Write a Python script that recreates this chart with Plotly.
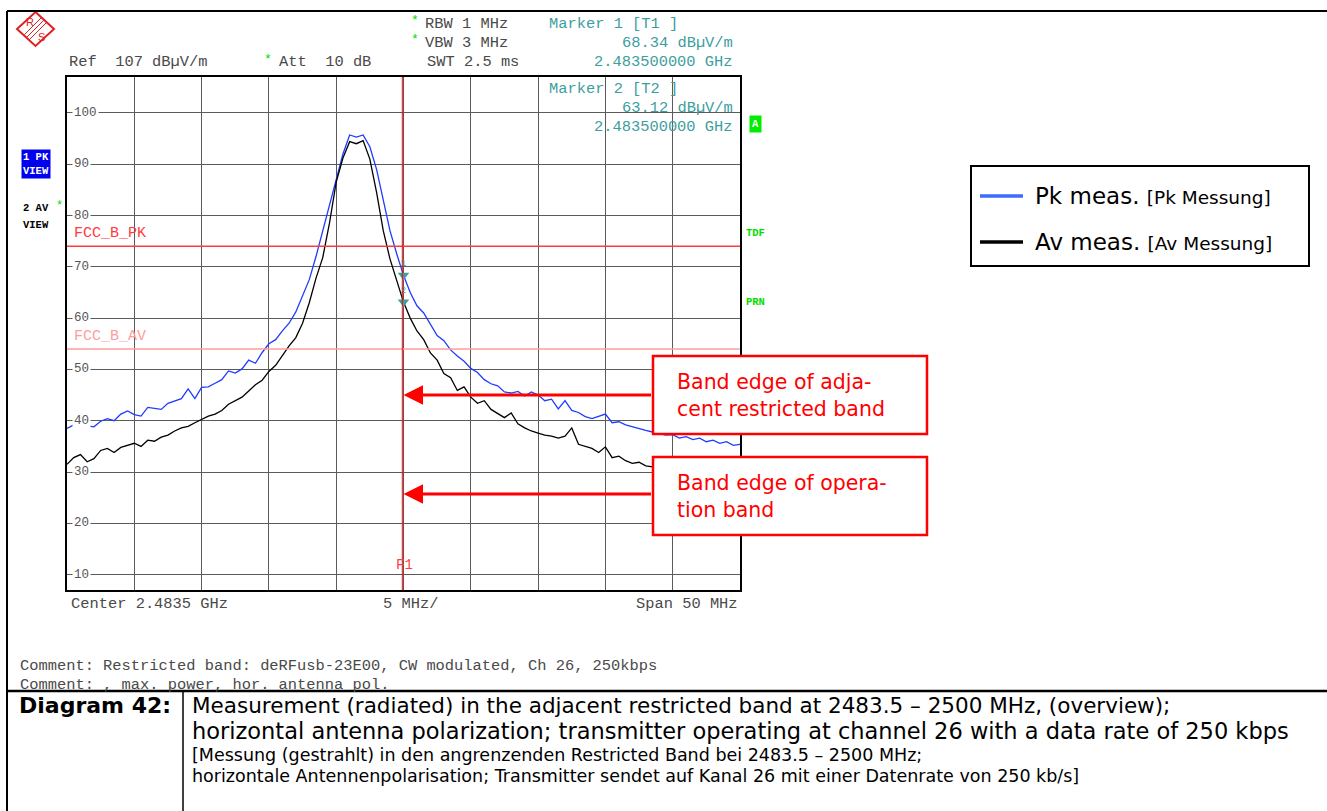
import plotly.graph_objects as go

# Spectrum analyzer screenshot: restricted band, Ch 26, horizontal polarization

W, H = 1327, 811

freq_mhz = [
    2458.5, 2459.0, 2459.5, 2460.0, 2460.5, 2461.0, 2461.5, 2462.0, 2462.5, 2463.0,
    2463.5, 2464.0, 2464.5, 2465.0, 2465.5, 2466.0, 2466.5, 2467.0, 2467.5, 2468.0,
    2468.5, 2469.0, 2469.5, 2470.0, 2470.5, 2471.0, 2471.5, 2472.0, 2472.5, 2473.0,
    2473.5, 2474.0, 2474.5, 2475.0, 2475.5, 2476.0, 2476.5, 2477.0, 2477.5, 2478.0,
    2478.5, 2479.0, 2479.5, 2480.0, 2480.5, 2481.0, 2481.5, 2482.0, 2482.5, 2483.0,
    2483.5, 2484.0, 2484.5, 2485.0, 2485.5, 2486.0, 2486.5, 2487.0, 2487.5, 2488.0,
    2488.5, 2489.0, 2489.5, 2490.0, 2490.5, 2491.0, 2491.5, 2492.0, 2492.5, 2493.0,
    2493.5, 2494.0, 2494.5, 2495.0, 2495.5, 2496.0, 2496.5, 2497.0, 2497.5, 2498.0,
    2498.5, 2499.0, 2499.5, 2500.0, 2500.5, 2501.0, 2501.5, 2502.0, 2502.5, 2503.0,
    2503.5, 2504.0, 2504.5, 2505.0, 2505.5, 2506.0, 2506.5, 2507.0, 2507.5, 2508.0,
    2508.5,
]

pk_dbuv = [
    38.5, 39.2, 39.6, 39.0, 38.8, 39.9, 40.4, 40.0, 41.3, 41.9,
    41.2, 40.9, 42.6, 42.4, 42.2, 43.4, 43.8, 44.3, 46.2, 44.3,
    46.5, 46.6, 47.3, 48.0, 49.7, 49.3, 50.1, 51.8, 51.2, 53.3,
    55.0, 55.8, 57.5, 59.0, 61.2, 64.3, 67.5, 72.0, 77.0, 82.5,
    87.5, 92.0, 95.7, 95.3, 95.7, 93.4, 89.0, 83.2, 77.0, 72.5,
    68.34, 65.0, 62.4, 61.0, 58.9, 56.6, 55.6, 53.8, 52.6, 51.6,
    50.2, 49.4, 48.0, 47.2, 46.8, 45.6, 45.4, 45.7, 44.8, 45.6,
    45.0, 43.9, 44.2, 42.3, 43.9, 42.0, 41.6, 40.8, 40.4, 40.9,
    41.3, 39.6, 39.8, 39.2, 38.8, 38.4, 38.1, 37.8, 37.5, 37.2,
    37.3, 36.6, 36.9, 36.3, 36.6, 35.9, 36.2, 35.6, 35.9, 35.2,
    35.4,
]

av_dbuv = [
    31.5, 32.8, 33.4, 32.0, 32.6, 34.2, 34.6, 33.8, 34.8, 35.2,
    35.6, 35.0, 36.2, 36.0, 36.8, 37.2, 38.0, 38.6, 38.9, 39.6,
    40.2, 40.9, 41.3, 42.0, 43.2, 43.9, 44.6, 45.8, 47.0, 47.9,
    49.6, 50.8, 52.8, 54.6, 56.2, 59.0, 63.0, 67.8, 71.8, 78.5,
    86.5, 91.2, 94.4, 94.0, 94.6, 91.0, 84.5, 77.0, 71.5, 67.3,
    63.12, 60.0, 57.5, 55.8, 53.2, 51.8, 49.2, 48.4, 45.9, 46.6,
    44.6, 43.4, 43.9, 42.2, 41.4, 40.6, 41.5, 39.4, 38.6, 38.0,
    37.6, 37.2, 37.0, 36.6, 37.0, 38.6, 35.4, 35.0, 34.6, 33.8,
    34.9, 32.8, 33.1, 32.2, 31.7, 31.9, 31.2, 31.0, 31.8, 31.2,
    31.6, 30.9, 31.3, 30.7, 31.1, 30.6, 30.9, 30.4, 30.8, 30.3,
    30.6,
]

marker_freq = [2483.5, 2483.5]
marker_level = [68.34, 63.12]
marker_names = ["1", "2"]

limit_names = ["FCC_B_PK", "FCC_B_AV"]
limit_levels = [74, 54]
limit_colors = ["#ff3b3b", "#ff9c9c"]

y_tick_vals = [100, 90, 80, 70, 60, 50, 40, 30, 20, 10]

series_names = ["Pk meas.", "Av meas."]
series_names_de = ["[Pk Messung]", "[Av Messung]"]
series_colors = ["#1f3bff", "#000000"]
legend_colors = ["#3d6bff", "#000000"]

caption_lines = [
    "Measurement (radiated) in the adjacent restricted band at 2483.5 – 2500 MHz, (overview);",
    "horizontal antenna polarization; transmitter operating at channel 26 with a data rate of 250 kbps",
    "[Messung (gestrahlt) in den angrenzenden Restricted Band bei 2483.5 – 2500 MHz;",
    "horizontale Antennenpolarisation; Transmitter sendet auf Kanal 26 mit einer Datenrate von 250 kb/s]",
]
caption_rows = [705, 731, 755, 776]
caption_sizes = [21.5, 22.5, 17.5, 17.5]

MONO = "Liberation Mono, Courier New, monospace"
SANS = "DejaVu Sans, Arial, sans-serif"
GRAY = "#4a4a4a"
TEAL = "#3d9e9e"
GREEN = "#00dd00"
RED = "#ff0000"


def px(x):
    return x / W


def py(y):
    return 1 - y / H


def txt(x, y, s, color=GRAY, size=15.4, family=MONO, xanchor="left", **kw):
    return dict(x=px(x), y=py(y), xref="paper", yref="paper", text=s,
                showarrow=False, xanchor=xanchor, yanchor="middle",
                font=dict(family=family, size=size, color=color), **kw)


def line(x0, y0, x1, y1, color="black", width=2):
    return dict(type="line", xref="paper", yref="paper",
                x0=px(x0), y0=py(y0), x1=px(x1), y1=py(y1),
                line=dict(color=color, width=width), layer="above")


fig = go.Figure()

for name, vals, col in zip(series_names, [pk_dbuv, av_dbuv], series_colors):
    fig.add_trace(go.Scatter(x=freq_mhz, y=vals, mode="lines", name=name,
                             line=dict(color=col, width=1.3)))

fig.add_trace(go.Scatter(x=marker_freq, y=marker_level, mode="markers+text",
                         text=marker_names, textposition="top center",
                         textfont=dict(family=MONO, size=9, color=TEAL),
                         marker=dict(symbol="triangle-down", size=10, color=TEAL)))

shapes = []
annotations = []

# limit lines
for name, lvl, col in zip(limit_names, limit_levels, limit_colors):
    shapes.append(dict(type="line", xref="x", yref="y", x0=2458.5, x1=2508.5,
                       y0=lvl, y1=lvl, line=dict(color=col, width=1.5)))
    annotations.append(dict(x=2458.9, y=lvl, xref="x", yref="y", text=name,
                            showarrow=False, xanchor="left", yanchor="bottom",
                            yshift=2, font=dict(family=MONO, size=15, color=col)))

# marker line F1
shapes.append(dict(type="line", xref="paper", yref="paper",
                   x0=px(402.3), x1=px(402.3), y0=py(590), y1=py(77),
                   line=dict(color=RED, width=1)))
annotations.append(txt(404, 565, "F1", color="#ff4040", size=14, xanchor="center"))

# y tick labels drawn over the grid
for v in y_tick_vals:
    annotations.append(dict(x=px(72), y=v, xref="paper", yref="y", text=str(v),
                            showarrow=False, xanchor="left", yanchor="middle",
                            bgcolor="white", borderpad=1,
                            font=dict(family=MONO, size=12.5, color="#555555")))

# header texts
annotations += [
    txt(67, 62, "Ref\u00a0\u00a0107\u00a0dBµV/m"),
    txt(268, 59, "*", color=GREEN, size=13, xanchor="center"),
    txt(277, 62, "Att\u00a0\u00a010\u00a0dB"),
    txt(415, 21, "*", color=GREEN, size=13, xanchor="center"),
    txt(423, 24, "RBW\u00a01\u00a0MHz"),
    txt(415, 40, "*", color=GREEN, size=13, xanchor="center"),
    txt(423, 43, "VBW\u00a03\u00a0MHz"),
    txt(425, 62, "SWT\u00a02.5\u00a0ms"),
    txt(547, 24, "Marker\u00a01\u00a0[T1\u00a0]", color=TEAL),
    txt(735, 43, "68.34\u00a0dBµV/m", color=TEAL, xanchor="right"),
    txt(735, 62, "2.483500000\u00a0GHz", color=TEAL, xanchor="right"),
    txt(547, 89, "Marker\u00a02\u00a0[T2\u00a0]", color=TEAL),
    txt(735, 108, "63.12\u00a0dBµV/m", color=TEAL, xanchor="right"),
    txt(735, 127, "2.483500000\u00a0GHz", color=TEAL, xanchor="right"),
    txt(69, 604, "Center\u00a02.4835\u00a0GHz"),
    txt(410, 604, "5\u00a0MHz/", xanchor="center"),
    txt(740, 604, "Span\u00a050\u00a0MHz", xanchor="right"),
    txt(18, 666, "Comment:\u00a0Restricted\u00a0band:\u00a0deRFusb-23E00,\u00a0CW\u00a0modulated,\u00a0Ch\u00a026,\u00a0250kbps"),
    txt(18, 685, "Comment:\u00a0,\u00a0max.\u00a0power,\u00a0hor.\u00a0antenna\u00a0pol."),
    # side labels
    txt(21, 164, "<b>1\u00a0PK<br>VIEW</b>", color="white", size=10.5,
        bgcolor="#0000ee", borderpad=1),
    txt(21, 208, "<b>2\u00a0AV</b>", color="black", size=10.5),
    txt(59, 206, "*", color=GREEN, size=12, xanchor="center"),
    txt(21, 225, "<b>VIEW</b>", color="black", size=10.5),
    txt(755, 124, "<b>A</b>", color="white", size=10.5, xanchor="center",
        bgcolor="#00ee00", borderpad=2),
    txt(744, 233, "<b>TDF</b>", color=GREEN, size=10.5),
    txt(744, 302, "<b>PRN</b>", color=GREEN, size=10.5),
]

# R&S logo
shapes.append(dict(type="path", xref="paper", yref="paper",
                   path="M {} {} L {} {} L {} {} L {} {} Z".format(
                       px(35.5), py(12), px(54), py(29), px(35.5), py(46), px(17), py(29)),
                   line=dict(color="#e02020", width=2)))
for d in [-2.5, 0, 2.5]:
    shapes.append(line(44 + d, 20 + d, 27 + d, 37 + d, color="#e02020", width=1))
annotations += [
    txt(30, 22, "R", color="#e02020", size=11, family="Liberation Sans", xanchor="center"),
    txt(41, 37, "S", color="#e02020", size=11, family="Liberation Sans", xanchor="center"),
]

# frame lines
shapes += [
    line(7, 11, 1327, 11),
    line(7, 11, 7, 811),
    line(7, 691, 1327, 691, width=2.5),
    line(183, 691, 183, 811, width=1.5),
]

# legend box
shapes.append(dict(type="rect", xref="paper", yref="paper",
                   x0=px(971), x1=px(1309), y0=py(266), y1=py(166),
                   line=dict(color="black", width=2), fillcolor="white"))
for i, (n, nde, col) in enumerate(zip(series_names, series_names_de, legend_colors)):
    yy = 196 + i * 46
    shapes.append(line(980, yy, 1023, yy, color=col, width=3.5))
    annotations.append(txt(1033, yy, n + " <span style='font-size:18.5px'>" + nde + "</span>",
                           color="black", size=23, family=SANS))

# band edge callouts
callouts = [
    ("Band edge of adja-<br>cent restricted band", 356, 434, 45.0),
    ("Band edge of opera-<br>tion band", 457, 535, 25.7),
]
for label, top, bot, lvl in callouts:
    shapes.append(dict(type="rect", xref="paper", yref="paper",
                       x0=px(653), x1=px(927), y0=py(bot), y1=py(top),
                       line=dict(color=RED, width=2.5), fillcolor="white", layer="above"))
    annotations.append(dict(x=px(675), y=py((top + bot) / 2), xref="paper", yref="paper",
                            text=label, showarrow=False, xanchor="left", yanchor="middle",
                            align="left", font=dict(family=SANS, size=20.5, color=RED)))
    annotations.append(dict(x=2483.5, y=lvl, xref="x", yref="y", text="",
                            showarrow=True, ax=249, ay=0, axref="pixel", ayref="pixel",
                            arrowhead=2, arrowsize=1.3, arrowwidth=3, arrowcolor=RED,
                            standoff=0, startstandoff=0))

# caption table
annotations.append(txt(17, 705, "<b>Diagram 42:</b>", color="black", size=22, family=SANS))
for s, row, size in zip(caption_lines, caption_rows, caption_sizes):
    annotations.append(txt(190, row, s, color="black", size=size, family=SANS))

fig.update_layout(
    width=W, height=H,
    margin=dict(l=0, r=0, t=0, b=0),
    paper_bgcolor="white", plot_bgcolor="white",
    showlegend=False,
    shapes=shapes, annotations=annotations,
    xaxis=dict(domain=[px(67), px(740)], range=[2458.5, 2508.5],
               tick0=2458.5, dtick=5, showticklabels=False, ticks="",
               showgrid=True, gridcolor="#5a5a5a", gridwidth=1, zeroline=False,
               showline=True, linecolor="black", linewidth=2, mirror=True),
    yaxis=dict(domain=[py(590), py(77)], range=[7, 107],
               tick0=0, dtick=10, showticklabels=False, ticks="",
               showgrid=True, gridcolor="#5a5a5a", gridwidth=1, zeroline=False,
               showline=True, linecolor="black", linewidth=2, mirror=True),
)

fig.write_html("out.html", config={"displayModeBar": False},
               post_script="document.body.style.margin='0px';")
